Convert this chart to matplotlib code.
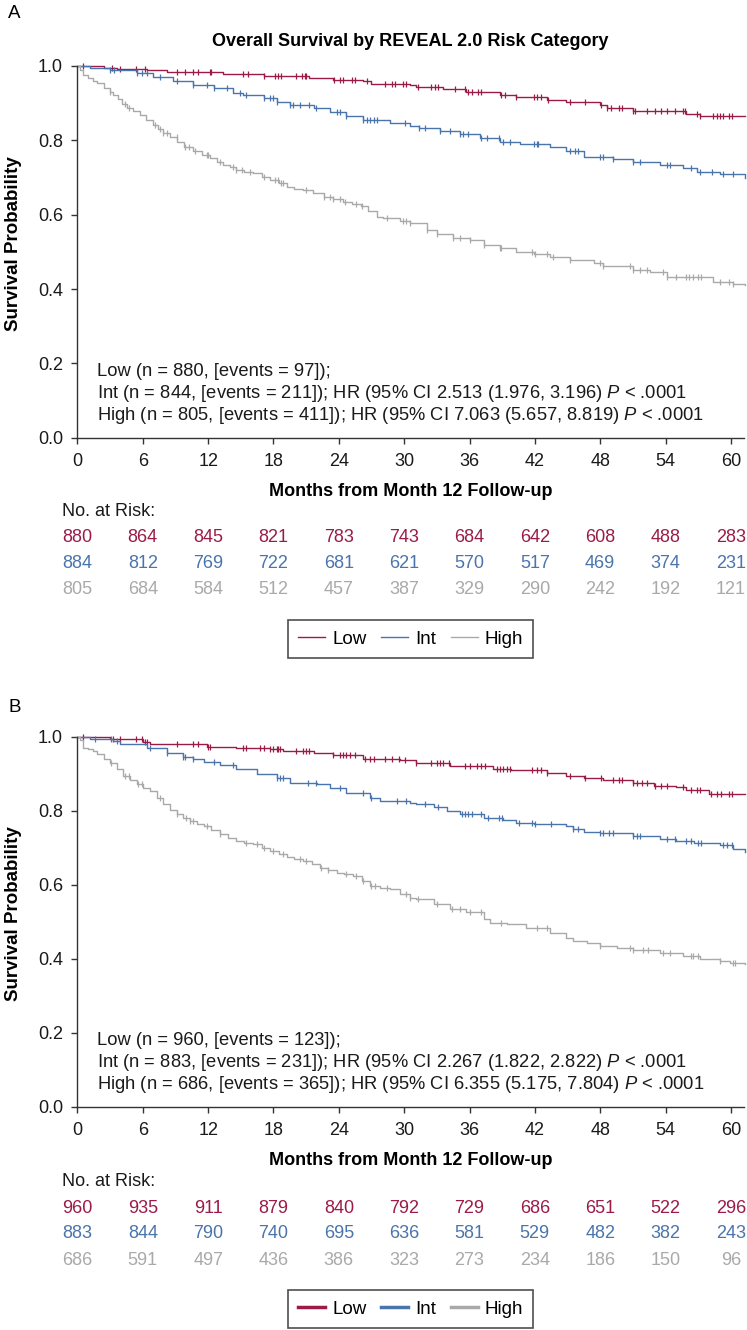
import numpy as np
import matplotlib
matplotlib.use("Agg")
import matplotlib.pyplot as plt
import matplotlib.transforms as mtransforms

plt.rcParams['font.family'] = ['Liberation Sans', 'DejaVu Sans']
plt.rcParams['mathtext.fontset'] = 'custom'
plt.rcParams['mathtext.rm'] = 'Liberation Sans'
plt.rcParams['mathtext.it'] = 'Liberation Sans:italic'

RED = '#9b1b48'
BLUE = '#4a74ac'
GRAY = '#a9a9a9'
groups = ['Low', 'Int', 'High']
colors = [RED, BLUE, GRAY]

months_ticks = [0, 6, 12, 18, 24, 30, 36, 42, 48, 54, 60]

# ---------------- Panel A: survival curves (month, survival) ----------------
a_low_t = [0, 2.4, 3.6, 6.35, 8.2, 13.4, 17.1, 21.3, 23.5, 26.2, 27.0, 30.5, 31.1, 33.6, 35.7,
           38.8, 40.3, 43.1, 44.9, 48.0, 48.6, 51.0, 55.9, 57.2, 61.3]
a_low_s = [1.0, 0.9955, 0.992, 0.988, 0.984, 0.978, 0.973, 0.968, 0.962, 0.959, 0.951, 0.949, 0.943,
           0.937, 0.931, 0.922, 0.916, 0.909, 0.903, 0.895, 0.888, 0.878, 0.872, 0.866, 0.866]
a_int_t = [0, 1.15, 2.98, 5.43, 6.96, 8.8, 10.6, 12.5, 14.3, 15.2, 17.1, 18.3, 19.5, 21.7, 23.2,
           24.7, 26.2, 28.7, 30.5, 31.4, 33.3, 35.1, 36.97, 38.8, 40.6, 43.4, 44.9, 46.5, 49.2,
           51.0, 53.5, 55.6, 56.9, 59.0, 61.3]
a_int_s = [1.0, 0.994, 0.989, 0.980, 0.971, 0.960, 0.949, 0.940, 0.928, 0.922, 0.913, 0.904, 0.895,
           0.888, 0.877, 0.866, 0.855, 0.846, 0.839, 0.832, 0.825, 0.816, 0.805, 0.796, 0.789,
           0.783, 0.771, 0.756, 0.750, 0.743, 0.734, 0.725, 0.716, 0.709, 0.698]
a_high_t = [0, 0.2, 0.54, 1.0, 1.4, 1.76, 2.4, 2.98, 3.3, 3.7, 4.1, 4.51, 5.1, 5.74, 6.3, 6.96,
            7.4, 7.88, 8.5, 9.11, 9.8, 10.6, 11.4, 12.2, 12.8, 13.4, 14.0, 14.6, 15.3, 16.1,
            16.9, 17.7, 18.5, 19.2, 19.9, 20.7, 21.6, 22.6, 23.5, 24.4, 25.2, 26.0, 26.7, 27.5,
            28.1, 28.7, 29.6, 30.5, 32.1, 33.0, 34.5, 36.0, 37.3, 38.8, 40.3, 41.9, 43.4, 45.2,
            47.4, 48.3, 51.0, 52.6, 54.1, 56.2, 58.4, 60.2, 61.3]
a_high_s = [1.0, 0.99, 0.976, 0.968, 0.960, 0.953, 0.942, 0.931, 0.922, 0.910, 0.898, 0.886,
            0.878, 0.868, 0.855, 0.841, 0.830, 0.819, 0.808, 0.796, 0.783, 0.770, 0.761, 0.752,
            0.743, 0.734, 0.727, 0.720, 0.716, 0.711, 0.702, 0.693, 0.684, 0.675, 0.670, 0.666,
            0.657, 0.648, 0.641, 0.635, 0.628, 0.622, 0.609, 0.595, 0.592, 0.590, 0.583, 0.577,
            0.559, 0.547, 0.538, 0.532, 0.518, 0.511, 0.500, 0.493, 0.487, 0.478, 0.469, 0.463,
            0.451, 0.445, 0.433, 0.431, 0.420, 0.413, 0.411]

a_low_cens = [0.54, 3.14, 3.9, 5.4, 6.2, 9.1, 9.9, 10.6, 11.1, 12.2, 12.3, 15.2, 15.7, 17.1, 18.1,
              18.4, 18.7, 20.1, 20.6, 20.9, 21.0, 23.6, 24.1, 24.4, 25.2, 25.5, 26.6, 28.2, 28.9,
              29.2, 29.9, 30.2, 31.3, 32.5, 32.8, 33.1, 34.7, 35.6, 35.9, 36.2, 36.8, 37.1, 38.9,
              39.3, 40.3, 41.9, 42.2, 42.6, 43.2, 45.2, 46.6, 48.1, 48.6, 49.0, 49.7, 50.0, 51.0,
              51.2, 52.3, 53.0, 53.6, 54.1, 54.9, 55.6, 55.8, 56.9, 57.2, 58.4, 58.7, 59.0, 59.3,
              59.8, 60.1]
a_int_cens = [2.98, 3.4, 5.43, 5.9, 6.35, 7.6, 9.1, 10.6, 11.9, 12.5, 13.7, 14.9, 15.5, 17.1, 17.7,
              18.0, 18.3, 19.5, 19.8, 20.4, 21.3, 21.9, 23.8, 24.1, 24.7, 26.2, 26.6, 26.9, 27.2,
              27.5, 30.1, 31.4, 31.9, 33.3, 34.2, 35.1, 35.4, 35.9, 37.1, 37.6, 38.7, 39.1, 39.7,
              41.9, 42.2, 42.3, 45.2, 45.7, 46.0, 48.0, 48.3, 49.2, 51.0, 51.7, 54.1, 54.4, 56.3,
              57.2, 58.3, 59.3, 60.2]
a_high_cens = [2.98, 4.4, 4.7, 7.1, 7.6, 7.9, 8.2, 9.1, 9.9, 10.2, 10.8, 11.9, 12.0, 13.1, 14.3,
               14.6, 15.1, 15.8, 17.1, 18.1, 18.4, 18.7, 18.9, 21.0, 22.6, 23.2, 23.5, 24.1, 24.6,
               25.6, 26.1, 28.4, 29.9, 30.2, 30.5, 32.1, 33.0, 34.5, 35.1, 36.0, 37.3, 38.8, 38.9,
               41.7, 42.0, 43.1, 43.7, 45.2, 48.0, 48.3, 50.7, 51.0, 51.7, 52.3, 53.8, 54.1, 55.0,
               55.9, 56.2, 56.5, 57.0, 57.3, 59.0, 59.8, 60.2]

a_risk_low = [880, 864, 845, 821, 783, 743, 684, 642, 608, 488, 283]
a_risk_int = [884, 812, 769, 722, 681, 621, 570, 517, 469, 374, 231]
a_risk_high = [805, 684, 584, 512, 457, 387, 329, 290, 242, 192, 121]

a_notes = ["Low (n = 880, [events = 97]);",
           "Int (n = 844, [events = 211]); HR (95% CI 2.513 (1.976, 3.196) $\\it{P}$ < .0001",
           "High (n = 805, [events = 411]); HR (95% CI 7.063 (5.657, 8.819) $\\it{P}$ < .0001"]

# ---------------- Panel B ----------------
b_low_t = [0, 2.98, 6.0, 6.7, 11.9, 14.6, 17.7, 18.9, 21.7, 23.5, 26.2, 29.6, 31.1, 34.2, 38.2,
           39.8, 43.1, 44.9, 46.5, 48.3, 51.0, 52.9, 55.0, 55.9, 58.0, 61.3]
b_low_s = [1.0, 0.995, 0.986, 0.979, 0.973, 0.969, 0.966, 0.961, 0.957, 0.950, 0.941, 0.936, 0.930,
           0.921, 0.913, 0.909, 0.901, 0.894, 0.889, 0.883, 0.874, 0.867, 0.864, 0.856, 0.846, 0.846]
b_int_t = [0, 1.15, 3.3, 3.9, 6.35, 8.2, 9.7, 10.6, 11.6, 13.1, 14.6, 16.5, 18.3, 19.5, 22.0, 23.2,
           24.7, 26.9, 27.8, 30.5, 31.1, 32.7, 33.9, 35.1, 37.3, 39.1, 40.3, 41.9, 44.9, 45.5,
           46.5, 48.0, 51.0, 53.5, 55.0, 56.6, 59.0, 60.2, 61.3]
b_int_s = [1.0, 0.995, 0.988, 0.979, 0.970, 0.957, 0.946, 0.939, 0.932, 0.923, 0.913, 0.898, 0.889,
           0.876, 0.871, 0.862, 0.849, 0.835, 0.826, 0.822, 0.817, 0.811, 0.799, 0.792, 0.781,
           0.774, 0.768, 0.763, 0.759, 0.750, 0.743, 0.741, 0.732, 0.723, 0.718, 0.712, 0.707,
           0.697, 0.689]
b_high_t = [0, 0.2, 0.54, 1.0, 1.4, 1.76, 2.4, 2.98, 3.6, 4.2, 4.8, 5.43, 6.0, 6.65, 7.3, 7.9,
            8.5, 9.1, 9.7, 10.3, 11.0, 11.6, 12.3, 13.1, 13.8, 14.6, 15.3, 16.1, 16.9, 17.7,
            18.5, 19.2, 19.9, 20.7, 21.5, 22.3, 23.0, 23.8, 24.5, 25.3, 26.1, 26.9, 27.8, 28.7,
            29.6, 30.5, 31.1, 32.7, 34.2, 35.7, 37.3, 37.9, 39.4, 41.2, 43.4, 44.9, 45.5, 46.8,
            48.0, 49.5, 51.0, 53.5, 55.6, 57.2, 59.0, 59.9, 61.3]
b_high_s = [1.0, 0.99, 0.970, 0.966, 0.962, 0.952, 0.941, 0.930, 0.912, 0.894, 0.882, 0.871,
            0.862, 0.853, 0.835, 0.817, 0.803, 0.790, 0.781, 0.772, 0.765, 0.759, 0.748, 0.736,
            0.727, 0.718, 0.713, 0.709, 0.700, 0.691, 0.683, 0.676, 0.670, 0.664, 0.655, 0.646,
            0.639, 0.632, 0.628, 0.624, 0.610, 0.597, 0.592, 0.588, 0.576, 0.565, 0.561, 0.547,
            0.534, 0.525, 0.506, 0.497, 0.493, 0.484, 0.470, 0.457, 0.448, 0.443, 0.434, 0.430,
            0.424, 0.415, 0.407, 0.400, 0.394, 0.388, 0.387]

b_low_cens = [0.54, 3.3, 3.9, 5.4, 5.9, 6.2, 6.35, 9.1, 10.6, 11.1, 12.0, 12.2, 15.2, 15.5, 16.8,
              17.1, 17.7, 18.0, 18.3, 18.4, 18.6, 20.1, 20.7, 21.0, 21.3, 23.5, 24.1, 24.4, 24.7,
              25.0, 25.5, 26.4, 26.9, 27.2, 28.2, 28.9, 29.5, 30.1, 31.1, 32.5, 33.0, 33.3, 33.6,
              34.1, 35.6, 36.0, 36.7, 37.1, 37.4, 38.5, 38.8, 39.1, 39.4, 39.7, 41.7, 42.2, 42.6,
              43.1, 45.2, 46.6, 48.1, 49.2, 49.7, 50.0, 51.0, 51.4, 51.8, 52.3, 53.0, 53.6, 54.1,
              55.6, 56.3, 56.9, 57.2, 58.2, 58.7, 59.1, 59.8, 60.1]
b_int_cens = [1.6, 3.1, 3.6, 6.7, 8.2, 9.7, 9.9, 10.6, 12.5, 14.3, 18.3, 18.6, 18.9, 21.2, 21.9,
              24.1, 26.2, 27.0, 29.3, 30.2, 31.9, 33.1, 35.3, 35.6, 35.9, 36.2, 37.1, 37.7, 38.7,
              39.0, 40.5, 41.7, 42.0, 43.5, 45.5, 46.0, 48.0, 48.3, 48.8, 49.2, 51.0, 51.4, 51.7,
              54.1, 54.9, 55.9, 56.3, 57.0, 57.3, 59.3, 59.6, 60.1]
b_high_cens = [3.1, 4.4, 4.7, 5.6, 5.9, 7.6, 9.1, 10.0, 10.3, 10.6, 11.9, 13.1, 15.5, 16.5, 17.1,
               18.0, 18.9, 20.4, 21.0, 22.4, 23.0, 24.7, 25.6, 26.2, 27.0, 27.3, 28.4, 30.2, 30.5,
               31.3, 33.0, 34.4, 35.1, 36.0, 37.1, 38.9, 42.2, 43.1, 48.0, 50.7, 51.0, 51.9, 52.4,
               53.8, 54.4, 56.3, 56.5, 57.0, 59.0, 60.2, 60.4]

b_risk_low = [960, 935, 911, 879, 840, 792, 729, 686, 651, 522, 296]
b_risk_int = [883, 844, 790, 740, 695, 636, 581, 529, 482, 382, 243]
b_risk_high = [686, 591, 497, 436, 386, 323, 273, 234, 186, 150, 96]

b_notes = ["Low (n = 960, [events = 123]);",
           "Int (n = 883, [events = 231]); HR (95% CI 2.267 (1.822, 2.822) $\\it{P}$ < .0001",
           "High (n = 686, [events = 365]); HR (95% CI 6.355 (5.175, 7.804) $\\it{P}$ < .0001"]


def step_value(t, s, x):
    idx = np.searchsorted(t, x, side='right') - 1
    return np.asarray(s)[np.clip(idx, 0, len(s) - 1)]


def draw_panel(ax, curves, censors, risks, notes, legend_lw, risk_y, legend_y):
    for (t, s), cens, col, name in zip(curves, censors, colors, groups):
        ax.step(t, s, where='post', color=col, lw=1.0, clip_on=False, label=name)
        ax.plot(cens, step_value(t, s, cens), ls='none', marker='|', ms=5, mew=0.9,
                color=col, clip_on=False)

    ax.set_xlim(0, 61.2)
    ax.set_ylim(0, 1.0)
    ax.set_xticks(months_ticks)
    ax.set_yticks([0, 0.2, 0.4, 0.6, 0.8, 1.0])
    ax.set_yticklabels(['0.0', '0.2', '0.4', '0.6', '0.8', '1.0'])
    for side in ['top', 'right']:
        ax.spines[side].set_visible(False)
    for side in ['left', 'bottom']:
        ax.spines[side].set_color('#333333')
        ax.spines[side].set_linewidth(1.0)
    ax.tick_params(axis='both', labelsize=13, color='#333333', width=1.0, length=4.5,
                   labelcolor='#1a1a1a')
    ax.tick_params(axis='x', pad=6.5)
    ax.tick_params(axis='y', pad=6)
    ax.set_xlabel('Months from Month 12 Follow-up', fontsize=13, fontweight='bold',
                  labelpad=9.5)
    ax.set_ylabel('Survival Probability', fontsize=13.5, fontweight='bold')
    ax.yaxis.set_label_coords(-0.0825, 0.522)

    for yy, note in zip([0.179, 0.120, 0.061], notes):
        ax.text(0.030, yy, note, transform=ax.transAxes, fontsize=13.2, va='center',
                ha='left', color='#1a1a1a')

    trans = mtransforms.blended_transform_factory(ax.transData, ax.transAxes)
    ax.text(-1.42, risk_y[0], 'No. at Risk:', transform=trans, fontsize=13,
            ha='left', va='center', color='#1a1a1a')
    for row, col, yy in zip(risks, colors, risk_y[1:]):
        for m, n in zip(months_ticks, row):
            ax.text(m, yy, str(n), transform=trans, fontsize=13, ha='center', va='center',
                    color=col)

    handles = [plt.Line2D([], [], color=c, lw=legend_lw) for c in colors]
    leg = ax.legend(handles, groups, loc='center', bbox_to_anchor=(0.5, legend_y), ncol=3,
                    frameon=True, fancybox=False, fontsize=13.5, handlelength=1.45,
                    handletextpad=0.35, columnspacing=0.8, borderpad=0.55)
    leg.get_frame().set_edgecolor('#222222')
    leg.get_frame().set_linewidth(1.2)


fig = plt.figure(figsize=(7.47, 13.3), dpi=100)
ax_a = fig.add_axes([0.1037, 0.6709, 0.8922, 0.2795])
ax_b = fig.add_axes([0.1037, 0.1679, 0.8922, 0.2782])

draw_panel(ax_a,
           [(a_low_t, a_low_s), (a_int_t, a_int_s), (a_high_t, a_high_s)],
           [a_low_cens, a_int_cens, a_high_cens],
           [a_risk_low, a_risk_int, a_risk_high], a_notes, 1.0,
           [-0.199, -0.269, -0.338, -0.408], -0.5416)
draw_panel(ax_b,
           [(b_low_t, b_low_s), (b_int_t, b_int_s), (b_high_t, b_high_s)],
           [b_low_cens, b_int_cens, b_high_cens],
           [b_risk_low, b_risk_int, b_risk_high], b_notes, 2.5,
           [-0.203, -0.275, -0.344, -0.415], -0.5468)

ax_a.set_title('Overall Survival by REVEAL 2.0 Risk Category', fontsize=13, fontweight='bold',
               pad=14.5)
fig.text(8 / 747, 1 - 13 / 1330, 'A', fontsize=13.5, ha='left', va='center')
fig.text(8 / 747, 1 - 707 / 1330, 'B', fontsize=13.5, ha='left', va='center')

fig.savefig('out.png', dpi=100)
